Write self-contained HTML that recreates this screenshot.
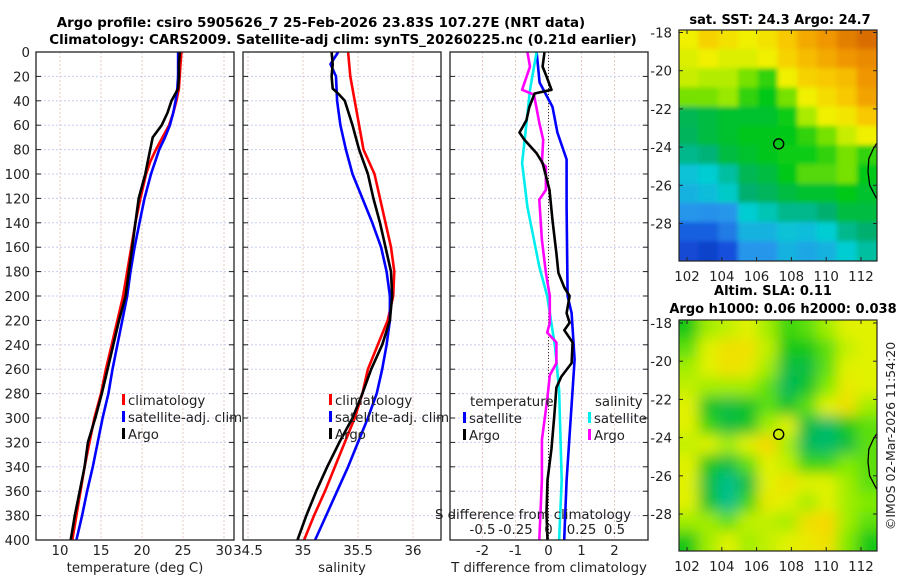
<!DOCTYPE html>
<html><head><meta charset="utf-8">
<style>
html,body{margin:0;padding:0;background:#fff;}
svg{display:block;font-family:"DejaVu Sans","Liberation Sans",sans-serif;}
</style></head>
<body>
<svg id="chart" width="900" height="580" viewBox="0 0 900 580" xmlns="http://www.w3.org/2000/svg">
<defs>
<filter id="blurSla" x="-0.3" y="-0.3" width="1.6" height="1.6"><feGaussianBlur stdDeviation="7"/></filter>
<filter id="blurSst" x="-0.3" y="-0.3" width="1.6" height="1.6"><feGaussianBlur stdDeviation="2.5"/></filter>
<clipPath id="clipSst"><rect x="679" y="30" width="198" height="231"/></clipPath>
<clipPath id="clipSla"><rect x="679" y="320" width="198" height="231"/></clipPath>
</defs>
<text x="321" y="27" text-anchor="middle" font-size="13.4" font-weight="bold">Argo profile: csiro 5905626_7 25-Feb-2026 23.83S 107.27E (NRT data)</text>
<text x="343" y="44" text-anchor="middle" font-size="13.4" font-weight="bold">Climatology: CARS2009. Satellite-adj clim: synTS_20260225.nc (0.21d earlier)</text>
<text x="780" y="24" text-anchor="middle" font-size="13" font-weight="bold">sat. SST: 24.3 Argo: 24.7</text>
<text x="773" y="295" text-anchor="middle" font-size="13" font-weight="bold">Altim. SLA: 0.11</text>
<text x="783" y="313" text-anchor="middle" font-size="13" font-weight="bold">Argo h1000: 0.06 h2000: 0.038</text>
<text transform="translate(895,436) rotate(-90)" text-anchor="middle" font-size="12.5" fill="#222">©IMOS 02-Mar-2026 11:54:20</text>
<g id="layer"></g>
</svg>
<script>
// ---------- data ----------
const depthTicks = [0,20,40,60,80,100,120,140,160,180,200,220,240,260,280,300,320,340,360,380,400];
const tempTicks = [10,15,20,25,30];
const salTicks = [34.5,35,35.5,36];
const tdiffTicks = [-2,-1,0,1,2];
const sdiffTicks = [-0.5,-0.25,0,0.25,0.5];
const sdiffTickLabels = ["-0.5","-0.25","0","0.25","0.5"];
const lonTicks = [102,104,106,108,110,112];
const latTicks = [-18,-20,-22,-24,-26,-28];

const profDepth = [0,10,20,30,40,50,60,70,80,90,100,120,140,160,180,200,220,240,260,280,300,320,340,360,380,400];
const tempClim = [24.8,24.7,24.6,24.5,24.2,23.8,23.3,22.5,21.7,21.0,20.5,19.8,19.2,18.7,18.2,17.7,17.0,16.3,15.6,15.0,14.2,13.6,13.0,12.5,12.0,11.5];
const tempSat  = [24.4,24.4,24.4,24.3,24.1,23.8,23.4,22.8,22.1,21.6,21.1,20.3,19.7,19.1,18.6,18.2,17.6,17.0,16.4,15.9,15.2,14.6,14.0,13.3,12.7,12.0];
const tempArgo = [24.6,24.5,24.5,24.4,23.6,23.1,22.4,21.3,21.0,20.7,20.4,19.6,19.2,18.8,18.4,18.0,17.2,16.5,15.8,15.1,14.3,13.4,13.0,12.4,11.8,11.3];

const salDepthClim = [0,20,40,60,80,100,120,140,160,180,200,220,240,260,280,300,320,340,360,380,400];
const salClim = [35.41,35.43,35.47,35.51,35.55,35.65,35.70,35.75,35.80,35.83,35.82,35.77,35.68,35.59,35.54,35.47,35.38,35.29,35.20,35.10,35.01];
const salDepthSat = [0,10,20,40,60,80,100,120,140,160,180,200,220,240,260,280,300,320,340,360,380,400];
const salSat = [35.32,35.25,35.30,35.31,35.34,35.39,35.45,35.54,35.63,35.71,35.76,35.79,35.79,35.76,35.72,35.67,35.59,35.50,35.41,35.31,35.21,35.11];
const salDepthArgo = [0,10,20,30,35,40,60,80,100,120,140,160,180,200,220,240,260,280,300,320,340,360,380,400];
const salArgo = [35.26,35.27,35.26,35.27,35.33,35.38,35.45,35.51,35.59,35.64,35.70,35.75,35.80,35.81,35.79,35.72,35.62,35.54,35.45,35.33,35.22,35.12,35.03,34.95];

const tSatDepth = [0,25,45,66,88,127,200,214,252,277,351,398,400];
const tSatDiff = [-0.36,-0.27,0.12,0.27,0.55,0.55,0.58,0.70,0.79,0.73,0.55,0.48,0.48];
const sSatDepth = [0,31,72,91,127,176,200,242,277,351,400];
const sSatDiff = [-0.09,-0.14,-0.18,-0.20,-0.16,-0.07,-0.01,0.05,0.08,0.10,0.08];
const sArgoDepth = [0,12,31,35,58,72,91,94,113,121,154,181,200,222,230,238,255,265,285,318,351,400];
const sArgoDiff = [-0.16,-0.14,-0.20,-0.11,-0.07,-0.04,-0.05,-0.02,-0.02,-0.07,-0.05,-0.02,0.01,0.01,-0.01,0.06,0.06,0.01,-0.01,-0.05,-0.05,-0.07];
const tArgoDepth = [0,12,20,31,34,45,56,66,72,83,91,113,138,165,181,193,200,214,222,228,238,255,266,275,297,325,351,378,400];
const tArgoDiff = [-0.12,-0.18,-0.06,0.09,-0.42,-0.58,-0.67,-0.88,-0.73,-0.36,-0.18,0.03,0.12,0.24,0.30,0.48,0.64,0.55,0.64,0.48,0.73,0.70,0.39,0.24,0.18,0.09,-0.03,-0.06,-0.03];

const sstGrid = [
[0.72,0.78,0.75,0.72,0.75,0.80,0.85,0.88,0.92,0.95],
[0.70,0.72,0.70,0.70,0.72,0.78,0.82,0.85,0.88,0.90],
[0.68,0.66,0.66,0.62,0.58,0.72,0.78,0.80,0.82,0.88],
[0.62,0.62,0.64,0.58,0.55,0.62,0.72,0.76,0.80,0.86],
[0.48,0.50,0.52,0.52,0.52,0.56,0.65,0.72,0.74,0.80],
[0.47,0.50,0.52,0.54,0.54,0.55,0.58,0.62,0.68,0.72],
[0.42,0.44,0.50,0.52,0.54,0.56,0.56,0.58,0.62,0.58],
[0.33,0.35,0.40,0.48,0.50,0.55,0.60,0.60,0.62,0.55],
[0.30,0.32,0.36,0.45,0.47,0.50,0.52,0.52,0.55,0.52],
[0.25,0.24,0.25,0.35,0.38,0.42,0.42,0.45,0.50,0.50],
[0.15,0.15,0.20,0.30,0.30,0.33,0.32,0.35,0.42,0.45],
[0.10,0.08,0.12,0.25,0.25,0.30,0.28,0.30,0.35,0.40]];
const slaGrid = [
[0.40,0.60,0.65,0.70,0.60,0.45,0.50,0.60,0.70,0.70],
[0.50,0.70,0.80,0.80,0.65,0.40,0.40,0.50,0.65,0.70],
[0.60,0.70,0.80,0.75,0.60,0.30,0.30,0.50,0.70,0.70],
[0.65,0.60,0.60,0.60,0.50,0.25,0.35,0.55,0.75,0.70],
[0.70,0.35,0.30,0.35,0.50,0.35,0.50,0.70,0.80,0.60],
[0.70,0.45,0.30,0.35,0.60,0.70,0.30,0.20,0.40,0.50],
[0.65,0.70,0.60,0.70,0.85,0.60,0.25,0.20,0.30,0.50],
[0.70,0.40,0.30,0.50,0.70,0.65,0.45,0.45,0.55,0.50],
[0.70,0.30,0.10,0.30,0.70,0.80,0.70,0.70,0.60,0.50],
[0.70,0.35,0.10,0.45,0.75,0.70,0.60,0.70,0.60,0.55],
[0.60,0.60,0.50,0.65,0.65,0.60,0.80,0.85,0.60,0.50],
[0.40,0.60,0.70,0.60,0.65,0.70,0.75,0.80,0.55,0.40]];
const argoLon = [107.27];
const argoLat = [-23.83];
const coastLon = [112.9,112.7,112.45,112.4,112.5,112.9];
const coastLat = [-23.8,-24.1,-24.6,-25.3,-26.0,-26.7];

// ---------- helpers ----------
const NS = "http://www.w3.org/2000/svg";
const layer = document.getElementById('layer');
function mk(tag, attrs, parent){
  const e = document.createElementNS(NS, tag);
  for (const k in attrs) e.setAttribute(k, attrs[k]);
  (parent||layer).appendChild(e);
  return e;
}
const TOP = 52, BOT = 540;
const yD = d => TOP + d*(BOT-TOP)/400;
const xT = t => 60 + (t-10)*8.2;
const xS = s => 303 + (s-35)*110;
const xTd = v => 548.5 + v*33;
const xSd = v => 548.5 + v*132;
const panels = [{x0:36,x1:234,n:'temperature'},{x0:243,x1:441,n:'salinity'},{x0:450,x1:648,n:'difference'}];

function gridAndFrame(p, xticks, xf){
  xticks.forEach(t=>{
    const gl = mk('line',{x1:xf(t),x2:xf(t),y1:TOP,y2:BOT,stroke:'#e8c8c0','stroke-width':1,'stroke-dasharray':'2,2'});
    
    
  });
  depthTicks.forEach(d=>{
    const gl = mk('line',{x1:p.x0,x2:p.x1,y1:yD(d),y2:yD(d),stroke:'#c8cdf0','stroke-width':1,'stroke-dasharray':'2,2'});
    
    
    mk('line',{x1:p.x0,x2:p.x0+5,y1:yD(d),y2:yD(d),stroke:'#222'});
    mk('line',{x1:p.x1-5,x2:p.x1,y1:yD(d),y2:yD(d),stroke:'#222'});
  });
}
function frame(p){
  const r = mk('rect',{x:p.x0,y:TOP,width:p.x1-p.x0,height:BOT-TOP,fill:'none',stroke:'#222','stroke-width':1.3});
  
  
}
function line(depths, vals, xf, color, name, w){
  const pts = depths.map((d,i)=>xf(vals[i]).toFixed(1)+','+yD(d).toFixed(1)).join(' ');
  const pl = mk('polyline',{points:pts,fill:'none',stroke:color,'stroke-width':w||2.6,'stroke-linejoin':'round'});
  
  
}
function txt(x,y,s,attrs,name){
  const t = mk('text',Object.assign({x:x,y:y,'font-size':13.3,fill:'#222'},attrs||{}));
  t.textContent = s;
  
  
  return t;
}
function legendEntry(x,y,color,label,name){
  mk('rect',{x:x,y:y-11,width:3,height:11,fill:color});
  return txt(x+6,y,label,{}, name);
}

// ---------- panel 1 ----------
gridAndFrame(panels[0], tempTicks, xT);
line(profDepth,tempClim,xT,'#ff0000','temperature-climatology-line');
line(profDepth,tempSat,xT,'#0000ff','temperature-satellite-adj-line');
line(profDepth,tempArgo,xT,'#000000','temperature-argo-line');
frame(panels[0]);
depthTicks.forEach(d=>{ txt(30,yD(d)+5,String(d),{'text-anchor':'end'},'depth-tick-label'); });
tempTicks.forEach(t=>{ txt(xT(t),555,String(t),{'text-anchor':'middle'},'temperature-tick-label'); });
txt(135,572,'temperature (deg C)',{'text-anchor':'middle'},'temperature-axis-title');
legendEntry(122,405,'#ff0000','climatology','legend-climatology');
legendEntry(122,422,'#0000ff','satellite-adj. clim','legend-satellite-adj-clim');
legendEntry(122,439,'#000000','Argo','legend-argo');

// ---------- panel 2 ----------
gridAndFrame(panels[1], salTicks, xS);
line(salDepthClim,salClim,xS,'#ff0000','salinity-climatology-line');
line(salDepthSat,salSat,xS,'#0000ff','salinity-satellite-adj-line');
line(salDepthArgo,salArgo,xS,'#000000','salinity-argo-line');
frame(panels[1]);
salTicks.forEach(t=>{ txt(xS(t),555,String(t),{'text-anchor':'middle'},'salinity-tick-label'); });
txt(342,572,'salinity',{'text-anchor':'middle'},'salinity-axis-title');
legendEntry(329,405,'#ff0000','climatology','legend-climatology-2');
legendEntry(329,422,'#0000ff','satellite-adj. clim','legend-satellite-adj-clim-2');
legendEntry(329,439,'#000000','Argo','legend-argo-2');

// ---------- panel 3 ----------
gridAndFrame(panels[2], tdiffTicks, xTd);
const zl = mk('line',{x1:xTd(0),x2:xTd(0),y1:TOP,y2:BOT,stroke:'#333','stroke-width':1,'stroke-dasharray':'1,2'});


line(tSatDepth,tSatDiff,xTd,'#0000ff','temperature-satellite-difference-line');
line(sSatDepth,sSatDiff,xSd,'#00eeee','salinity-satellite-difference-line');
line(sArgoDepth,sArgoDiff,xSd,'#ff00ff','salinity-argo-difference-line');
line(tArgoDepth,tArgoDiff,xTd,'#000000','temperature-argo-difference-line');
frame(panels[2]);
tdiffTicks.forEach(t=>{ txt(xTd(t),555,String(t),{'text-anchor':'middle'},'tdiff-tick-label'); });
txt(549,572,'T difference from climatology',{'text-anchor':'middle'},'tdiff-axis-title');
txt(533,519,'S difference from climatology',{'text-anchor':'middle'},'sdiff-axis-title');
sdiffTicks.forEach((t,i)=>{ txt(xSd(t),534,sdiffTickLabels[i],{'text-anchor':'middle'},'sdiff-tick-label'); });
txt(470,406,'temperature',{},'legend-temperature-header');
legendEntry(463,423,'#0000ff','satellite','legend-temperature-satellite');
legendEntry(463,440,'#000000','Argo','legend-temperature-argo');
txt(595,406,'salinity',{},'legend-salinity-header');
legendEntry(588,423,'#00eeee','satellite','legend-salinity-satellite');
legendEntry(588,440,'#ff00ff','Argo','legend-salinity-argo');

// ---------- maps ----------
const lonX = lon => 687 + (lon-102)*17.4;
function interp(stops,v){
  for(let i=1;i<stops.length;i++){
    if(v<=stops[i][0]){
      const a=stops[i-1],b=stops[i],f=(v-a[0])/(b[0]-a[0]);
      const c=a[1].map((x,j)=>Math.round(x+(b[1][j]-x)*f));
      return 'rgb('+c.join(',')+')';
    }
  }
  const c=stops[stops.length-1][1]; return 'rgb('+c.join(',')+')';
}
function mapColorSst(v){
  return interp([[0,[10,40,170]],[0.12,[20,80,220]],[0.25,[40,150,235]],[0.35,[0,205,210]],[0.45,[0,175,110]],[0.55,[0,200,20]],[0.65,[170,235,0]],[0.72,[240,240,0]],[0.8,[248,200,0]],[0.88,[240,150,0]],[1,[200,80,0]]],v);
}
function mapColorSla(v){
  return interp([[0,[0,195,175]],[0.25,[0,185,90]],[0.4,[20,200,20]],[0.55,[130,235,0]],[0.7,[225,242,0]],[0.85,[248,215,0]],[1,[242,170,0]]],v);
}
function drawMap(grid, top, colorF, clip, filt, name, latY){
  const g = mk('g',{'clip-path':'url(#'+clip+')'});
  
  
  const inner = mk('g',{filter:'url(#'+filt+')'}, g);
  const rows=grid.length, cols=grid[0].length;
  const cw=198/cols, ch=231/rows, ext=25;
  grid.forEach((row,r)=>row.forEach((v,c)=>{
    let x=679+c*cw-0.5, y=top+r*ch-0.5, w=cw+1, h=ch+1;
    if(c===0){x-=ext;w+=ext;}
    if(c===cols-1){w+=ext;}
    if(r===0){y-=ext;h+=ext;}
    if(r===rows-1){h+=ext;}
    const cell = mk('rect',{x:x.toFixed(1),y:y.toFixed(1),width:w.toFixed(1),height:h.toFixed(1),fill:colorF(v)}, inner);
    
    
  }));
  const pts = coastLon.map((lo,i)=>lonX(lo).toFixed(1)+','+latY(coastLat[i]).toFixed(1)).join(' ');
  const cl = mk('polyline',{points:pts,fill:'none',stroke:'#000','stroke-width':1.3}, g);
  
  
  const fr = mk('rect',{x:679,y:top,width:198,height:231,fill:'none',stroke:'#222','stroke-width':1.2});
  
  
  argoLon.forEach((lo,i)=>{
    const ci = mk('circle',{cx:lonX(lo),cy:latY(argoLat[i]),r:5,fill:'none',stroke:'#000','stroke-width':1.4});
    
    
  });
  lonTicks.forEach(lo=>{
    mk('line',{x1:lonX(lo),x2:lonX(lo),y1:top,y2:top+4,stroke:'#222'});
    mk('line',{x1:lonX(lo),x2:lonX(lo),y1:top+231-4,y2:top+231,stroke:'#222'});
    txt(lonX(lo),top+251,String(lo),{'text-anchor':'middle'},name+'-lon-tick-label');
  });
  latTicks.forEach(la=>{
    mk('line',{x1:679,x2:683,y1:latY(la),y2:latY(la),stroke:'#222'});
    mk('line',{x1:873,x2:877,y1:latY(la),y2:latY(la),stroke:'#222'});
    txt(672,latY(la)+5,String(la),{'text-anchor':'end'},name+'-lat-tick-label');
  });
}
drawMap(sstGrid, 30, mapColorSst, 'clipSst', 'blurSst', 'sst-map', la => 32.5 + (-18-la)*19.1);
drawMap(slaGrid, 320, mapColorSla, 'clipSla', 'blurSla', 'sla-map', la => 323 + (-18-la)*19.1);
</script>
</body></html>
